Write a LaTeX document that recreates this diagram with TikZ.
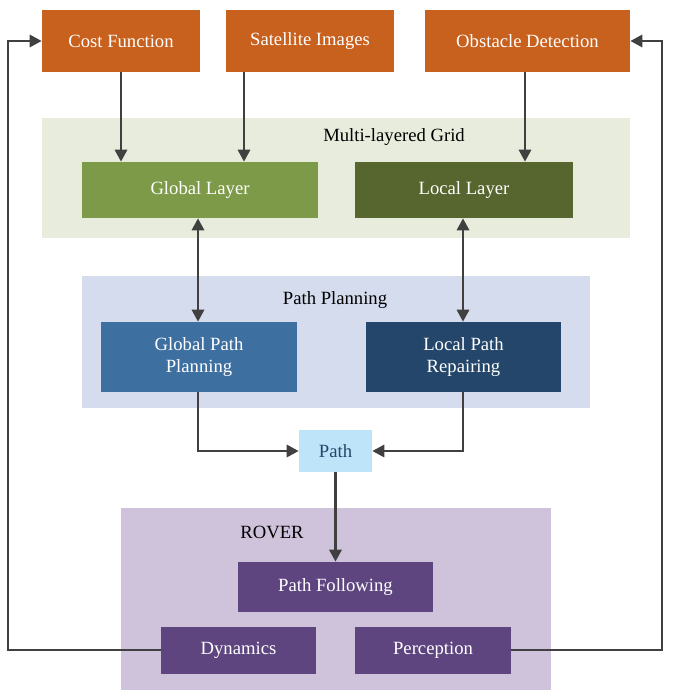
\documentclass[tikz,border=0pt]{standalone}
\usepackage{fontspec}
\setmainfont{Liberation Serif}
\usetikzlibrary{arrows.meta,positioning}
\definecolor{orng}{HTML}{C8601E}
\definecolor{gbg}{HTML}{E8ECDC}
\definecolor{glay}{HTML}{7C9A48}
\definecolor{llay}{HTML}{56662E}
\definecolor{pbg}{HTML}{D4DCEE}
\definecolor{gpp}{HTML}{3D6FA0}
\definecolor{lpr}{HTML}{24466A}
\definecolor{pth}{HTML}{BDE4F8}
\definecolor{rbg}{HTML}{CFC3DC}
\definecolor{rov}{HTML}{5E4580}
\definecolor{arr}{HTML}{404040}
\begin{document}
\begin{tikzpicture}[x=0.75pt,y=-0.75pt,
  box/.style={draw=none,inner sep=0,text=white,align=center,font=\fontsize{14}{16}\selectfont},
  bg/.style={draw=none,inner sep=0},
  lab/.style={font=\fontsize{14}{16}\selectfont,text=black,inner sep=0},
  con/.style={draw=arr,line width=2.2pt,-{Triangle[length=9pt,width=9pt]}},
  dcon/.style={draw=arr,line width=2.2pt,{Triangle[length=9pt,width=9pt]}-{Triangle[length=9pt,width=9pt]}}]
\useasboundingbox (0,0) rectangle (672,698);
% backgrounds
\fill[gbg] (42,118) rectangle (630,238);
\fill[pbg] (82,276) rectangle (590,408);
\fill[rbg] (121,508) rectangle (551,690);
\node[lab] (mlg) at (394,137) {Multi-layered Grid};
\node[lab] (ppl) at (335,300) {Path Planning};
\node[lab] (rvl) at (272,532) {ROVER};
% top boxes
\node[box,fill=orng,minimum width=158*0.75pt,minimum height=62*0.75pt] (cf) at (121,41) {Cost Function};
\node[box,fill=orng,minimum width=168*0.75pt,minimum height=62*0.75pt] (si) at (310,41) {Satellite Images};
\node[box,fill=orng,minimum width=205*0.75pt,minimum height=62*0.75pt] (od) at (527.5,41) {Obstacle Detection};
% layers
\node[box,fill=glay,minimum width=236*0.75pt,minimum height=56*0.75pt] (gl) at (200,190) {Global Layer};
\node[box,fill=llay,minimum width=218*0.75pt,minimum height=56*0.75pt] (ll) at (464,190) {Local Layer};
% planning
\node[box,fill=gpp,minimum width=196*0.75pt,minimum height=70*0.75pt] (gp) at (199,357) {Global Path\\Planning};
\node[box,fill=lpr,minimum width=195*0.75pt,minimum height=70*0.75pt] (lp) at (463.5,357) {Local Path\\Repairing};
\node[box,fill=pth,text=lpr,minimum width=73*0.75pt,minimum height=42*0.75pt] (p) at (335.5,451) {Path};
% rover
\node[box,fill=rov,minimum width=195*0.75pt,minimum height=50*0.75pt] (pf) at (335.5,587) {Path Following};
\node[box,fill=rov,minimum width=155*0.75pt,minimum height=47*0.75pt] (dy) at (238.5,650) {Dynamics};
\node[box,fill=rov,minimum width=156*0.75pt,minimum height=47*0.75pt] (pe) at (433,650) {Perception};
% connectors
\draw[con] (cf.south -| 121,0) -- (gl.north -| 121,0);
\draw[con] (si.south -| 244,0) -- (gl.north -| 244,0);
\draw[con] (od.south -| 525,0) -- (ll.north -| 525,0);
\draw[dcon] (gl.south -| 198,0) -- (gp.north -| 198,0);
\draw[dcon] (ll.south -| 463,0) -- (lp.north -| 463,0);
\draw[con] (gp.south -| 198,0) |- (p.west);
\draw[con] (lp.south -| 463,0) |- (p.east);
\draw[con] (p.south) -- (pf.north);
\coordinate (l1) at (8,650);
\coordinate (l2) at (8,41);
\coordinate (r1) at (662,650);
\coordinate (r2) at (662,41);
\draw[con] (dy.west) -- (l1) -- (l2) -- (cf.west);
\draw[con] (pe.east) -- (r1) -- (r2) -- (od.east);
\end{tikzpicture}
\end{document}
